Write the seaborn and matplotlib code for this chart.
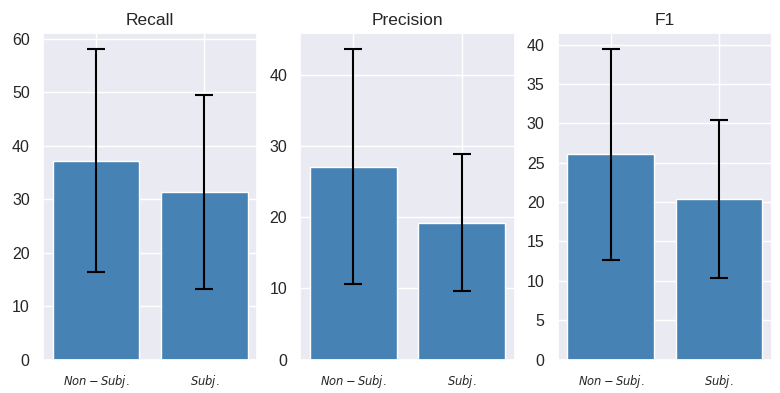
import matplotlib
matplotlib.use("Agg")
import matplotlib.pyplot as plt
import seaborn as sns
import pandas as pd

categories = ["$Non-Subj.$", "$Subj.$"]
metrics = ["Recall", "Precision", "F1"]
recall_mean = [37.2, 31.35]
recall_err = [20.9, 18.2]
precision_mean = [27.1, 19.2]
precision_err = [16.5, 9.6]
f1_mean = [26.05, 20.37]
f1_err = [13.4, 10.05]

means = [recall_mean, precision_mean, f1_mean]
errs = [recall_err, precision_err, f1_err]

sns.set_theme(style="darkgrid")
plt.rcParams["font.family"] = ["Liberation Sans", "DejaVu Sans"]

fig, axes = plt.subplots(1, 3, figsize=(7.8, 3.93), dpi=100)
for ax, name, m, e in zip(axes, metrics, means, errs):
    df = pd.DataFrame({"cat": categories, "val": m})
    sns.barplot(data=df, x="cat", y="val", color="steelblue", saturation=1,
                errorbar=None, ax=ax, width=0.8)
    ax.errorbar(range(len(m)), m, yerr=e, fmt="none", ecolor="black",
                capsize=6.5, elinewidth=1.5, capthick=1.5)
    ax.grid(True, axis="both", color="white", linewidth=1)
    ax.set_axisbelow(True)
    ax.set_title(name, fontsize=12.5)
    ax.set_xlabel("")
    ax.set_ylabel("")
    ax.tick_params(axis="x", labelsize=8.3)
    ax.tick_params(axis="y", labelsize=11.5)

fig.subplots_adjust(left=0.055, right=0.99, top=0.915, bottom=0.085, wspace=0.2)
fig.savefig("out.png", dpi=100)
